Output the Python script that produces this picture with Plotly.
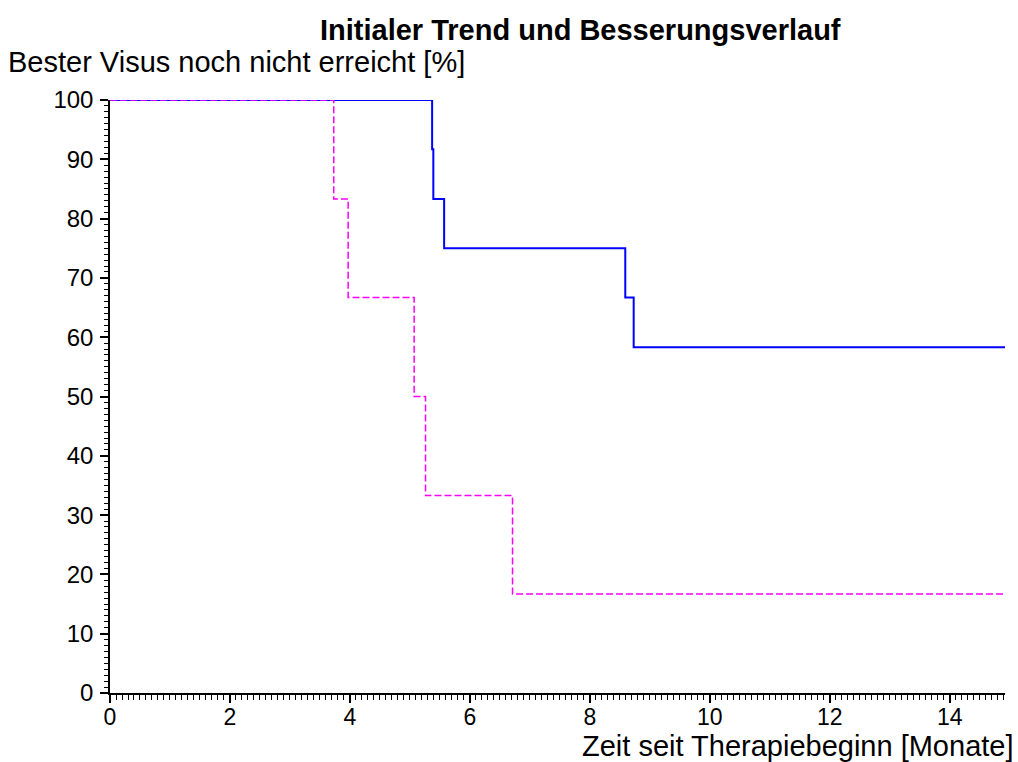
import plotly.graph_objects as go

# Data
blue_t = [0, 5.37, 5.39, 5.57, 8.59, 8.73, 14.92]
blue_s = [100, 91.7, 83.3, 75.0, 66.7, 58.3, 58.3]
mag_t = [0, 3.73, 3.97, 5.07, 5.26, 6.71, 14.92]
mag_s = [100, 83.3, 66.7, 50.0, 33.3, 16.7, 16.7]

x_ticks = [0, 2, 4, 6, 8, 10, 12, 14]
y_ticks = [0, 10, 20, 30, 40, 50, 60, 70, 80, 90, 100]

title_text = "Initialer Trend und Besserungsverlauf"
y_title = "Bester Visus noch nicht erreicht [%]"
x_title = "Zeit seit Therapiebeginn [Monate]"

FONT = "Liberation Sans, Arial, sans-serif"

fig = go.Figure()
fig.add_trace(go.Scatter(x=blue_t, y=blue_s, mode="lines", line_shape="hv",
                         line=dict(color="#0000FF", width=2), showlegend=False,
                         hoverinfo="skip"))
fig.add_trace(go.Scatter(x=mag_t, y=mag_s, mode="lines", line_shape="hv",
                         line=dict(color="#FF00FF", width=1.5, dash="7px,3px"),
                         showlegend=False, hoverinfo="skip"))

L, R, T, B = 110, 13, 100, 69
W, H = 1018, 762
pw = W - L - R
ph = H - T - B

def px_x(p):
    return (p - L) / pw

def px_y(p):
    return (H - B - p) / ph

fig.update_layout(
    width=W, height=H,
    margin=dict(l=L, r=R, t=T, b=B),
    paper_bgcolor="white", plot_bgcolor="white",
    font=dict(family=FONT, color="black", size=24),
    xaxis=dict(range=[0, 14.92], tickvals=x_ticks, ticks="outside", ticklen=8,
               tickwidth=1.5, tickcolor="black", showline=True, linecolor="black",
               linewidth=1.5, showgrid=False, zeroline=False,
               tickfont=dict(size=23, family=FONT), ticklabelstandoff=-5,
               minor=dict(dtick=0.1, tick0=0, ticks="outside", ticklen=5,
                          tickwidth=1.2, tickcolor="black", showgrid=False)),
    yaxis=dict(range=[0, 100], tickvals=y_ticks, ticks="outside", ticklen=8,
               tickwidth=1.5, tickcolor="black", showline=True, linecolor="black",
               linewidth=1.5, showgrid=False, zeroline=False,
               tickfont=dict(size=24, family=FONT), ticklabelstandoff=2,
               minor=dict(dtick=1, tick0=0, ticks="outside", ticklen=4,
                          tickwidth=1.2, tickcolor="black", showgrid=False)),
    annotations=[
        dict(text="<b>" + title_text + "</b>", xref="paper", yref="paper",
             x=px_x(580), y=px_y(30), xanchor="center", yanchor="middle",
             showarrow=False, font=dict(size=29, family=FONT)),
        dict(text=y_title, xref="paper", yref="paper",
             x=px_x(6), y=px_y(62), xanchor="left", yanchor="middle",
             showarrow=False, font=dict(size=29, family=FONT)),
        dict(text=x_title, xref="paper", yref="paper",
             x=px_x(1016), y=px_y(746), xanchor="right", yanchor="middle",
             showarrow=False, font=dict(size=29, family=FONT)),
    ],
)

fig.write_html("out.html", config={"displayModeBar": False},
               post_script="document.body.style.margin='0px';")
